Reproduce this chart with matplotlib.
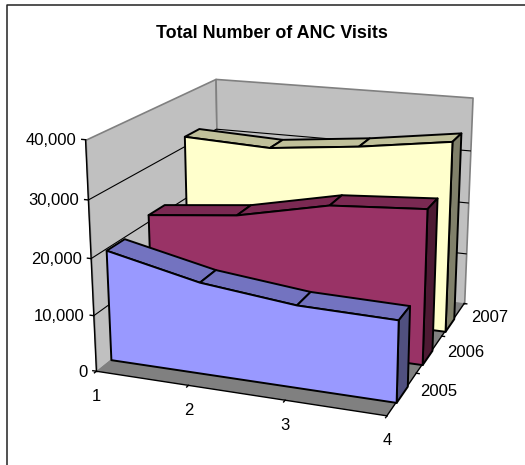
import numpy as np
import matplotlib
matplotlib.use('Agg')
import matplotlib.pyplot as plt
from matplotlib.lines import Line2D
from mpl_toolkits.mplot3d import proj3d
from mpl_toolkits.mplot3d.art3d import Poly3DCollection

plt.rcParams['font.family'] = ['Liberation Sans', 'DejaVu Sans']

categories = [1, 2, 3, 4]
years = ['2005', '2006', '2007']
visits_2005 = [19800, 16200, 14400, 14100]
visits_2006 = [21400, 23100, 26600, 27700]
visits_2007 = [32000, 31300, 33000, 35300]
value_ticks = [0, 10000, 20000, 30000, 40000]

front_cols = ['#9999FF', '#993366', '#FFFFCC']
top_cols = ['#7373C0', '#7A2952', '#C0C09A']
side_cols = ['#50507F', '#4D1A33', '#80806A']

xmin, xmax = categories[0], categories[-1]
ymax = len(years)
zmax = value_ticks[-1]


def quad(ax, pts, face, edge='k', lw=1.4, z=1):
    ax.add_collection3d(Poly3DCollection([pts], facecolors=face, edgecolors=edge,
                                         linewidths=lw, zorder=z))


def label3d(ax, s, x, y, z, dx, dy, ha):
    # plain 2D annotation anchored on the projected point, offset in pixels
    px, py, _ = proj3d.proj_transform(x, y, z, ax.get_proj())
    ax.annotate(s, (px, py), xytext=(dx, dy), textcoords='offset pixels', ha=ha, va='center',
                fontsize=12, zorder=9, annotation_clip=False)


fig = plt.figure(figsize=(5.25, 4.65), dpi=100)
ax = fig.add_axes([0.101, -0.006, 0.886, 1.0], projection='3d', computed_zorder=False)
ax.set_proj_type('persp', focal_length=0.54)
ax.view_init(elev=17.5, azim=-70)
ax.set_box_aspect((0.25, 0.26, 0.197), zoom=0.995)
ax.set_xlim(xmin, xmax)
ax.set_ylim(0, ymax)
ax.set_zlim(0, zmax)
ax.set_xticks([])
ax.set_yticks([])
ax.set_zticks([])
ax.set_axis_off()

# walls and floor
quad(ax, [(xmin, 0, 0), (xmin, ymax, 0), (xmin, ymax, zmax), (xmin, 0, zmax)], '#C0C0C0', '#808080', 1.2)
quad(ax, [(xmin, ymax, 0), (xmax, ymax, 0), (xmax, ymax, zmax), (xmin, ymax, zmax)], '#C0C0C0', '#808080', 1.2)
quad(ax, [(xmin, 0, 0), (xmax, 0, 0), (xmax, ymax, 0), (xmin, ymax, 0)], '#808080', 'none', 0)
ax.plot([xmin, xmax], [0, 0], [0, 0], color='k', lw=1, zorder=2)
ax.plot([xmax, xmax], [0, ymax], [0, 0], color='k', lw=1, zorder=2)
ax.plot([xmin, xmin], [0, 0], [0, zmax], color='k', lw=1, zorder=2)

# gridlines run along the side wall and the back wall
for v in value_ticks[1:-1]:
    ax.plot([xmin, xmin, xmax], [0, ymax, ymax], [v, v, v], color='k', lw=0.8, zorder=2)

# one extruded band per year, back to front
for i in [2, 1, 0]:
    vals = [visits_2005, visits_2006, visits_2007][i]
    y0 = 0.3 + 0.92 * i
    y1 = y0 + 0.38
    z = 3 + (2 - i)
    for j in range(len(categories) - 1):
        quad(ax, [(categories[j], y0, vals[j]), (categories[j + 1], y0, vals[j + 1]),
                  (categories[j + 1], y1, vals[j + 1]), (categories[j], y1, vals[j])],
             top_cols[i], z=z)
    quad(ax, [(xmax, y0, 0), (xmax, y1, 0), (xmax, y1, vals[-1]), (xmax, y0, vals[-1])],
         side_cols[i], z=z)
    front = [(c, y0, v) for c, v in zip(categories, vals)] + [(xmax, y0, 0), (xmin, y0, 0)]
    quad(ax, front, front_cols[i], z=z)

# tick marks and labels
for v in value_ticks:
    ax.plot([xmin - 0.04, xmin], [0, 0], [v, v], color='k', lw=1, zorder=2)
    label3d(ax, f'{v:,}', xmin, 0, v, -9, -1, 'right')
for c in categories:
    ax.plot([c, c], [0, -0.04], [0, 0], color='k', lw=1, zorder=2)
    label3d(ax, str(c), c, 0, 0, 0, -25, 'center')
for i, yr in enumerate(years):
    ax.plot([xmax, xmax + 0.03], [i + 1, i + 1], [0, 0], color='k', lw=1, zorder=2)
    label3d(ax, yr, xmax, i + 0.5, 0, 18, 2, 'left')

fig.text(272 / 525, 1 - 33 / 465, 'Total Number of ANC Visits', ha='center', va='center',
         fontsize=12.9, fontweight='bold')
# chart frame shows only along the top and left
fig.add_artist(Line2D([7 / 525, 7 / 525, 1], [0, 1 - 5 / 465, 1 - 5 / 465], color='#222222', lw=1.1))
fig.savefig('out.png', dpi=100)
